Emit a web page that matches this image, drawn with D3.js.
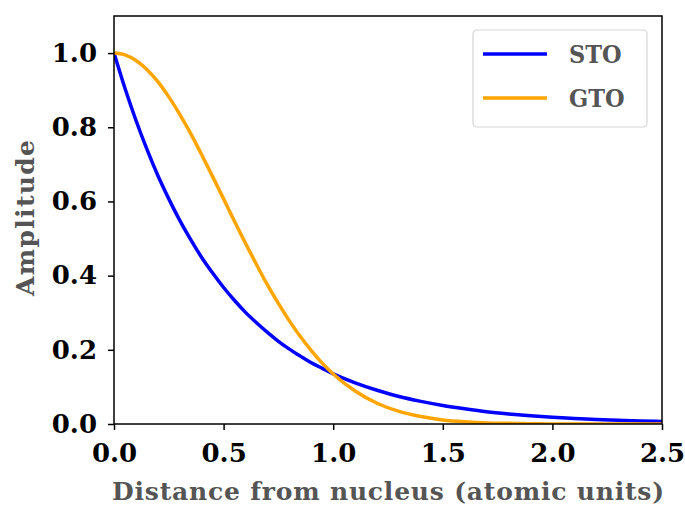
<!DOCTYPE html>
<html>
<head>
<meta charset="utf-8">
<script src="https://cdn.jsdelivr.net/npm/d3@7"></script>
<style>
  html, body { margin: 0; padding: 0; background: #fff; }
  svg { display: block; }
  .tick text { font-family: "DejaVu Serif", serif; font-weight: bold; font-size: 26px; fill: #000; }
  .title { font-family: "DejaVu Serif", serif; font-weight: bold; fill: #555; }
  .legend-label { font-family: "DejaVu Serif Condensed", "DejaVu Serif", serif; font-weight: bold; fill: #555; }
</style>
</head>
<body>
<svg id="chart" width="685" height="507"></svg>
<script>
// Radial distance (atomic units)
const distance = [0, 0.05, 0.1, 0.15, 0.2, 0.25, 0.3, 0.35, 0.4, 0.45, 0.5, 0.55, 0.6, 0.65, 0.7, 0.75,
  0.8, 0.85, 0.9, 0.95, 1.0, 1.1, 1.2, 1.3, 1.4, 1.5, 1.6, 1.7, 1.8, 1.9, 2.0, 2.1, 2.2, 2.3, 2.4, 2.5];

// Slater-type orbital amplitude
const sto = [1.000, 0.905, 0.819, 0.741, 0.670, 0.607, 0.549, 0.497, 0.449, 0.407, 0.368, 0.333, 0.301,
  0.273, 0.247, 0.223, 0.202, 0.183, 0.165, 0.150, 0.135, 0.111, 0.091, 0.074, 0.061, 0.050, 0.041,
  0.033, 0.027, 0.022, 0.018, 0.015, 0.012, 0.010, 0.008, 0.007];

// Gaussian-type orbital amplitude
const gto = [1.000, 0.995, 0.980, 0.956, 0.923, 0.882, 0.835, 0.783, 0.726, 0.667, 0.607, 0.546, 0.487,
  0.430, 0.375, 0.325, 0.278, 0.236, 0.198, 0.164, 0.135, 0.089, 0.056, 0.034, 0.020, 0.011, 0.006,
  0.003, 0.002, 0.001, 0.000, 0.000, 0.000, 0.000, 0.000, 0.000];

const seriesNames = ["STO", "GTO"];
const seriesColors = ["#0000ff", "#ffa500"];
const xTicks = [0, 0.5, 1.0, 1.5, 2.0, 2.5];
const yTicks = [0, 0.2, 0.4, 0.6, 0.8, 1.0];

const svg = d3.select("#chart");
const margin = { left: 114, right: 23, top: 16, bottom: 83 };
const W = 685, H = 507;

const x = d3.scaleLinear().domain([0, 2.5]).range([margin.left, W - margin.right]);
const y = d3.scaleLinear().domain([0, 1.1]).range([H - margin.bottom, margin.top]);

svg.append("clipPath").attr("id", "plot-clip")
  .append("rect")
  .attr("x", x(0)).attr("y", y(1.1))
  .attr("width", x(2.5) - x(0)).attr("height", y(0) - y(1.1));

const series = [sto, gto];
const line = d3.line().x((d, i) => x(distance[i])).y(d => y(d)).curve(d3.curveMonotoneX);

const plot = svg.append("g").attr("clip-path", "url(#plot-clip)");
series.forEach((vals, k) => {
  plot.append("path")
    .datum(vals)
    .attr("fill", "none")
    .attr("stroke", seriesColors[k])
    .attr("stroke-width", 3.5)
    .attr("stroke-linejoin", "round")
    .attr("d", line);
});

// Axes
const xAxis = svg.append("g")
  .attr("transform", `translate(0,${y(0)})`)
  .call(d3.axisBottom(x).tickValues(xTicks).tickFormat(d3.format(".1f")).tickSize(6).tickPadding(14));
const yAxis = svg.append("g")
  .attr("transform", `translate(${x(0)},0)`)
  .call(d3.axisLeft(y).tickValues(yTicks).tickFormat(d3.format(".1f")).tickSize(6).tickPadding(11));

[xAxis, yAxis].forEach(g => {
  g.select(".domain").remove();
  g.selectAll(".tick line").attr("stroke", "#000").attr("stroke-width", 1.5);
});

// Frame
svg.append("rect")
  .attr("x", x(0)).attr("y", y(1.1))
  .attr("width", x(2.5) - x(0)).attr("height", y(0) - y(1.1))
  .attr("fill", "none").attr("stroke", "#000").attr("stroke-width", 1.5);

// Axis titles
svg.append("text").attr("class", "title")
  .attr("x", (x(0) + x(2.5)) / 2).attr("y", 500)
  .attr("text-anchor", "middle").attr("font-size", 25)
  .attr("textLength", 552).attr("lengthAdjust", "spacing")
  .text("Distance from nucleus (atomic units)");

svg.append("text").attr("class", "title")
  .attr("transform", `translate(34,218) rotate(-90)`)
  .attr("text-anchor", "middle").attr("font-size", 25)
  .attr("textLength", 156).attr("lengthAdjust", "spacing")
  .text("Amplitude");

// Legend
const legend = svg.append("g").attr("transform", "translate(473,30)");
legend.append("rect")
  .attr("width", 174).attr("height", 97).attr("rx", 4)
  .attr("fill", "#fff").attr("fill-opacity", 0.8)
  .attr("stroke", "#d5d5d5").attr("stroke-width", 1.2);
seriesNames.forEach((name, k) => {
  const cy = 24 + k * 44;
  legend.append("line")
    .attr("x1", 10).attr("x2", 74).attr("y1", cy).attr("y2", cy)
    .attr("stroke", seriesColors[k]).attr("stroke-width", 3.5);
  legend.append("text").attr("class", "legend-label")
    .attr("x", 96).attr("y", cy + 9)
    .attr("font-size", 25)
    .text(name);
});
</script>
</body>
</html>
